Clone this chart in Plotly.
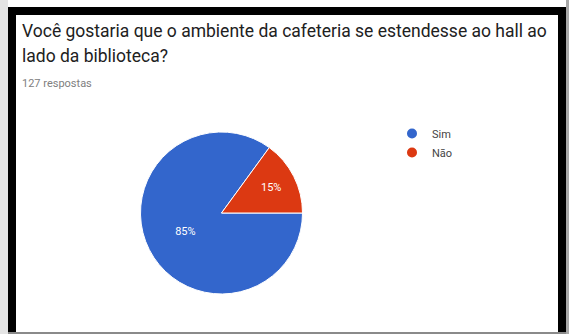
import plotly.graph_objects as go

labels = ["Sim", "Não"]
values = [108, 19]
colors = ["#3366CC", "#DC3912"]
title_lines = ["Você gostaria que o ambiente da cafeteria se estendesse ao hall ao",
               "lado da biblioteca?"]
subtitle = "127 respostas"

W, H = 569, 334

def px(x):
    return x / W

def py(y):
    return 1 - y / H

fig = go.Figure()

cx, cy, r = 221.5, 213, 81
fig.add_trace(go.Pie(
    labels=labels, values=values, sort=False, direction="clockwise", rotation=90,
    marker=dict(colors=colors, line=dict(color="white", width=1)),
    texttemplate="%{percent:.0%}", textposition="inside", insidetextorientation="horizontal",
    textfont=dict(color="white", size=11, family="Roboto"),
    domain=dict(x=[px(cx - r), px(cx + r)], y=[py(cy + r), py(cy - r)]),
    showlegend=False, hoverinfo="label+percent",
))

for lab, col in zip(labels, colors):
    fig.add_trace(go.Scatter(x=[None], y=[None], mode="markers", name=lab,
                             marker=dict(color=col, size=10, symbol="circle")))

shapes = []
shapes.append(dict(type="rect", xref="paper", yref="paper", x0=px(0), x1=px(8), y0=0, y1=1,
                   fillcolor="#e4e4e4", line=dict(width=0), layer="below"))
shapes.append(dict(type="rect", xref="paper", yref="paper", x0=px(566), x1=1, y0=0, y1=1,
                   fillcolor="#a8a8a8", line=dict(width=0), layer="below"))
shapes.append(dict(type="rect", xref="paper", yref="paper", x0=px(8), x1=px(16), y0=0, y1=py(7),
                   fillcolor="black", line=dict(width=0), layer="below"))
shapes.append(dict(type="rect", xref="paper", yref="paper", x0=px(558), x1=px(566), y0=0, y1=py(7),
                   fillcolor="black", line=dict(width=0), layer="below"))
shapes.append(dict(type="rect", xref="paper", yref="paper", x0=px(8), x1=px(566), y0=py(15), y1=py(7),
                   fillcolor="black", line=dict(width=0), layer="below"))
shapes.append(dict(type="rect", xref="paper", yref="paper", x0=px(8), x1=px(566), y0=0, y1=py(332),
                   fillcolor="#8a8a8a", line=dict(width=0), layer="below"))

annotations = [
    dict(text=title_lines[0], x=px(20), y=py(31), xref="paper", yref="paper",
         xanchor="left", yanchor="middle", showarrow=False,
         font=dict(family="Roboto", size=17.5, color="#212121")),
    dict(text=title_lines[1], x=px(20), y=py(56), xref="paper", yref="paper",
         xanchor="left", yanchor="middle", showarrow=False,
         font=dict(family="Roboto", size=17.5, color="#212121")),
    dict(text=subtitle, x=px(20), y=py(83), xref="paper", yref="paper",
         xanchor="left", yanchor="middle", showarrow=False,
         font=dict(family="Roboto", size=11, color="#808080")),
]

fig.update_layout(
    width=W, height=H, margin=dict(l=0, r=0, t=0, b=0),
    paper_bgcolor="white", plot_bgcolor="white",
    xaxis=dict(visible=False), yaxis=dict(visible=False),
    shapes=shapes, annotations=annotations,
    legend=dict(x=px(392), y=py(119), xanchor="left", yanchor="top",
                font=dict(family="Roboto", size=11, color="#444"),
                itemwidth=30, tracegroupgap=0, bgcolor="rgba(0,0,0,0)"),
)

fig.write_html("out.html")
